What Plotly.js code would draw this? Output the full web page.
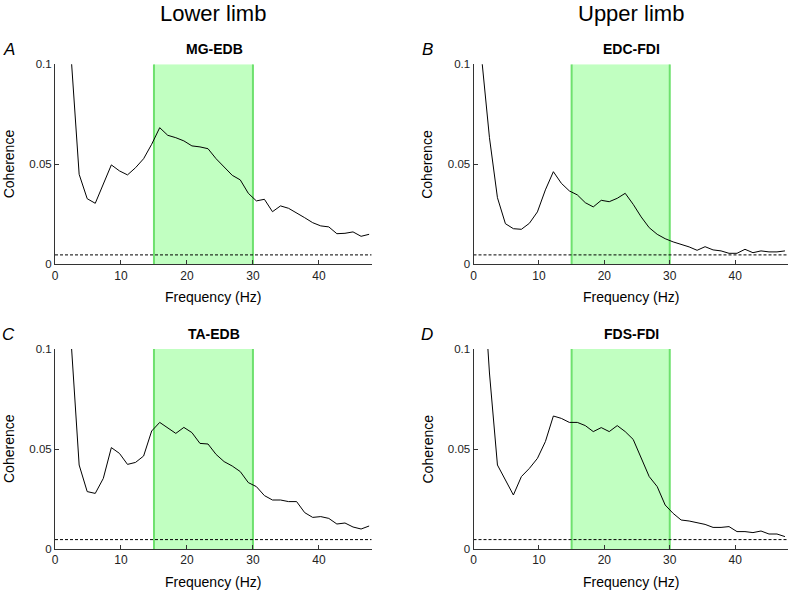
<!DOCTYPE html>
<html>
<head>
<meta charset="utf-8">
<script src="https://cdn.plot.ly/plotly-3.0.1.min.js"></script>
<style>html,body{margin:0;padding:0;background:#fff}#chart{width:792px;height:590px}</style>
</head>
<body>
<div id="chart"></div>
<script>
// Frequency bins (Hz)
const freq = [1.22, 2.44, 3.66, 4.88, 6.10, 7.32, 8.54, 9.77, 10.99, 12.21, 13.43, 14.65, 15.87, 17.09, 18.31, 19.53, 20.75, 21.97, 23.19, 24.41, 25.63, 26.86, 28.08, 29.30, 30.52, 31.74, 32.96, 34.18, 35.40, 36.62, 37.84, 39.06, 40.28, 41.50, 42.72, 43.95, 45.17, 46.39, 47.61];
// Coherence per muscle pair
const cohMG_EDB = [0.2, 0.104, 0.045, 0.0328, 0.0305, 0.040, 0.0497, 0.0467, 0.0447, 0.0483, 0.0528, 0.060, 0.0683, 0.0645, 0.0633, 0.0617, 0.0592, 0.0587, 0.0578, 0.0528, 0.0488, 0.0445, 0.0422, 0.0355, 0.0317, 0.0325, 0.0263, 0.0292, 0.028, 0.0258, 0.0233, 0.0208, 0.0192, 0.0187, 0.0153, 0.0155, 0.0162, 0.014, 0.015];
const cohEDC_FDI = [0.104, 0.0633, 0.0333, 0.0203, 0.0178, 0.0175, 0.0205, 0.0262, 0.0372, 0.0463, 0.0405, 0.0367, 0.0347, 0.0308, 0.0287, 0.032, 0.0313, 0.033, 0.0355, 0.030, 0.0237, 0.0183, 0.015, 0.0128, 0.0112, 0.010, 0.0087, 0.007, 0.0088, 0.0072, 0.0067, 0.0055, 0.0055, 0.0075, 0.0058, 0.0067, 0.0062, 0.0062, 0.0067];
const cohTA_EDB = [0.2, 0.104, 0.042, 0.0287, 0.0278, 0.0353, 0.0507, 0.0478, 0.0423, 0.0433, 0.0465, 0.059, 0.0633, 0.0607, 0.0578, 0.0608, 0.0582, 0.0528, 0.0525, 0.0473, 0.0437, 0.0415, 0.0387, 0.0332, 0.0312, 0.0267, 0.0245, 0.0245, 0.0237, 0.0237, 0.0182, 0.0158, 0.0162, 0.0153, 0.0125, 0.013, 0.011, 0.010, 0.0115];
const cohFDS_FDI = [0.15, 0.088, 0.042, 0.0345, 0.027, 0.0362, 0.0403, 0.0453, 0.0537, 0.0665, 0.0653, 0.0633, 0.0633, 0.0617, 0.0587, 0.0607, 0.0587, 0.0617, 0.0587, 0.0548, 0.0453, 0.0362, 0.0312, 0.022, 0.0178, 0.0145, 0.014, 0.0132, 0.0123, 0.0108, 0.0108, 0.0112, 0.0087, 0.0087, 0.0082, 0.009, 0.0075, 0.0075, 0.0062];
// 95% confidence limit
const confLimit = 0.0047;
// Beta band (Hz)
const bandLow = 15, bandHigh = 30;
const panelTitles = ['MG-EDB', 'EDC-FDI', 'TA-EDB', 'FDS-FDI'];
const panelLetters = ['A', 'B', 'C', 'D'];
const columnTitles = ['Lower limb', 'Upper limb'];
const xTicks = [0, 10, 20, 30, 40];
const yTicks = [0, 0.05, 0.1];
const yTickText = ['0', '0.05', '0.1'];
const xRange = [0, 48];
const yRange = [0, 0.1];

const W = 792, H = 590;
const px = x => x / W, py = y => 1 - y / H;
const FONT = 'Liberation Sans, Arial, sans-serif';

const series = [cohMG_EDB, cohEDC_FDI, cohTA_EDB, cohFDS_FDI];
// panel geometry in pixels: [left, right, top, bottom]
const geo = [
  [55, 371.7, 64.3, 264.3],
  [473.5, 787.5, 64.3, 264.3],
  [55, 371.7, 349, 549],
  [473.5, 787.5, 349, 549]
];

const traces = [];
const shapes = [];
const annotations = [];
const layout = {
  width: W, height: H,
  margin: {l: 0, r: 0, t: 0, b: 0},
  paper_bgcolor: '#fff', plot_bgcolor: 'rgba(0,0,0,0)',
  showlegend: false,
  font: {family: FONT, size: 11, color: '#222'}
};

series.forEach((s, i) => {
  const n = i === 0 ? '' : String(i + 1);
  const xa = 'x' + n, ya = 'y' + n;
  const g = geo[i];
  layout['xaxis' + n] = {
    domain: [px(g[0]), px(g[1])], anchor: ya, range: xRange,
    showline: true, linecolor: '#333', linewidth: 1, mirror: false,
    ticks: 'inside', ticklen: 4, tickcolor: '#333',
    tickvals: xTicks, showgrid: false, zeroline: false,
    tickfont: {family: FONT, size: 12, color: '#222'}, fixedrange: true
  };
  layout['yaxis' + n] = {
    domain: [py(g[3]), py(g[2])], anchor: xa, range: yRange,
    showline: true, linecolor: '#333', linewidth: 1,
    ticks: 'inside', ticklen: 4, tickcolor: '#333',
    tickvals: yTicks, ticktext: yTickText, showgrid: false, zeroline: false,
    tickfont: {family: FONT, size: 11.5, color: '#222'}, fixedrange: true
  };
  // band fill
  shapes.push({type: 'rect', xref: xa, yref: ya, x0: bandLow, x1: bandHigh, y0: yRange[0], y1: yRange[1],
    fillcolor: 'rgb(193,255,193)', line: {width: 0}, layer: 'below'});
  [bandLow, bandHigh].forEach(b => shapes.push({type: 'line', xref: xa, yref: ya, x0: b, x1: b, y0: yRange[0], y1: yRange[1],
    line: {color: 'rgb(110,225,110)', width: 2}, layer: 'below'}));
  // confidence limit
  traces.push({x: xRange, y: [confLimit, confLimit], xaxis: xa, yaxis: ya, mode: 'lines',
    line: {color: '#000', width: 1, dash: '3px,2px'}, hoverinfo: 'skip'});
  // coherence curve
  traces.push({x: freq, y: s, xaxis: xa, yaxis: ya, mode: 'lines',
    line: {color: '#000', width: 1}, hoverinfo: 'skip'});

  const cx = (g[0] + g[1]) / 2;
  annotations.push({text: '<b>' + panelTitles[i] + '</b>', xref: 'paper', yref: 'paper', x: px(cx + 1), y: py(g[2] - 15),
    showarrow: false, font: {family: FONT, size: 14, color: '#000'}, xanchor: 'center', yanchor: 'middle'});
  annotations.push({text: '<i>' + panelLetters[i] + '</i>', xref: 'paper', yref: 'paper', x: px(g[0] - 46.5), y: py(g[2] - 14.5),
    showarrow: false, font: {family: FONT, size: 17, color: '#000'}, xanchor: 'center', yanchor: 'middle'});
  annotations.push({text: 'Coherence', xref: 'paper', yref: 'paper', x: px(g[0] - 46), y: py((g[2] + g[3]) / 2),
    showarrow: false, textangle: -90, font: {family: FONT, size: 14, color: '#000'}, xanchor: 'center', yanchor: 'middle'});
  annotations.push({text: 'Frequency (Hz)', xref: 'paper', yref: 'paper', x: px(cx), y: py(g[3] + 33),
    showarrow: false, font: {family: FONT, size: 14, color: '#000'}, xanchor: 'center', yanchor: 'middle'});
});

[0, 1].forEach(c => {
  const g = geo[c];
  annotations.push({text: columnTitles[c], xref: 'paper', yref: 'paper', x: px((g[0] + g[1]) / 2), y: py(14),
    showarrow: false, font: {family: FONT, size: 22, color: '#000'}, xanchor: 'center', yanchor: 'middle'});
});

layout.shapes = shapes;
layout.annotations = annotations;
Plotly.newPlot('chart', traces, layout, {displayModeBar: false, staticPlot: true});
</script>
</body>
</html>
